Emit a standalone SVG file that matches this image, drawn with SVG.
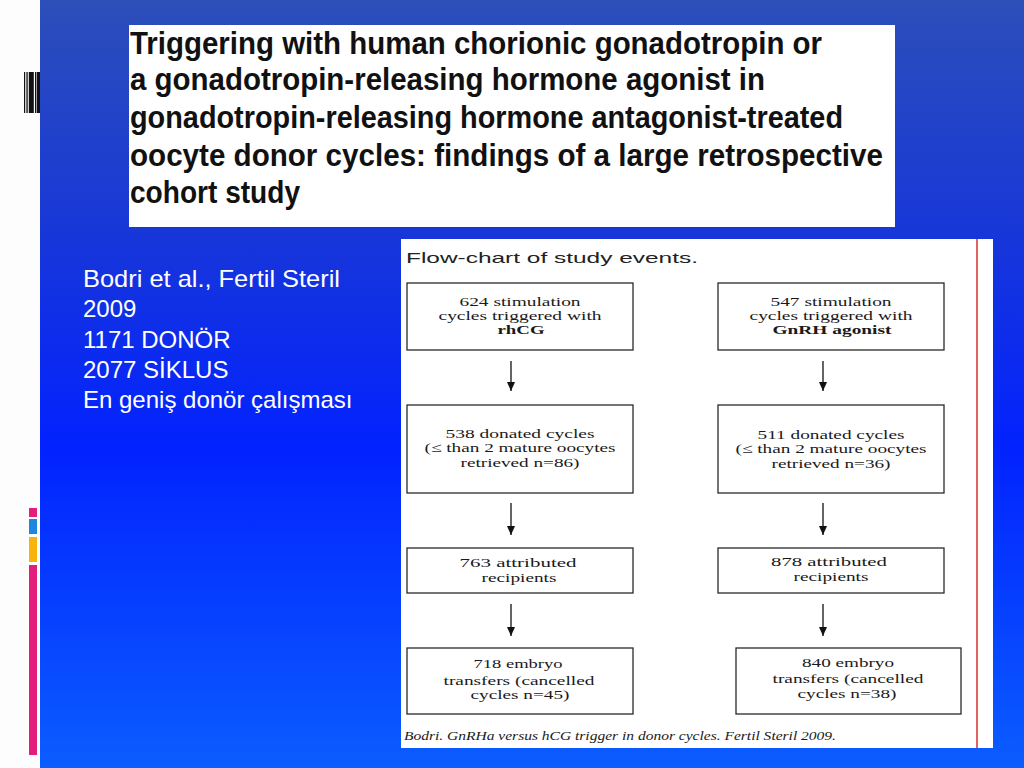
<svg xmlns="http://www.w3.org/2000/svg" width="1024" height="768" viewBox="0 0 1024 768">
  <defs>
    <linearGradient id="bg" x1="0" y1="0" x2="0" y2="1">
      <stop offset="0" stop-color="#2c4fb9"/>
      <stop offset="0.3" stop-color="#1837d8"/>
      <stop offset="0.58" stop-color="#0222ff"/>
      <stop offset="1" stop-color="#0b5dff"/>
    </linearGradient>
    <marker id="ah" viewBox="0 0 9 8" refX="9" refY="4" markerWidth="9" markerHeight="8" markerUnits="userSpaceOnUse" orient="auto">
      <path d="M0,0 L9,4 L0,8 z" fill="#111"/>
    </marker>
  </defs>
  <style>
    .title { font-family: "Liberation Sans", Arial, sans-serif; font-weight: bold; font-size: 32px; fill: #111; }
    .side { font-family: "Liberation Sans", Arial, sans-serif; font-size: 24px; fill: #ffffff; }
    .head { font-family: "Liberation Sans", Arial, sans-serif; font-size: 15px; fill: #222; }
    .box { fill: #ffffff; stroke: #2a2a2a; stroke-width: 1.3; }
    .bt { font-family: "Liberation Serif", "Times New Roman", serif; font-size: 13px; fill: #1a1a1a; text-anchor: middle; }
    .bb { font-weight: bold; }
    .cap { font-family: "Liberation Serif", "Times New Roman", serif; font-size: 12px; font-style: italic; fill: #1a1a1a; }
    .arr { stroke: #111; stroke-width: 1.3; fill: none; }
  </style>

  <!-- background -->
  <rect x="0" y="0" width="1024" height="768" fill="url(#bg)"/>
  <rect x="0" y="0" width="40" height="768" fill="#fdfdfd"/>

  <!-- barcode decoration -->
  <g id="barcode" fill="#111">
    <rect x="24" y="72" width="1.2" height="41"/>
    <rect x="26.4" y="72" width="1.3" height="41"/>
    <rect x="28.8" y="72" width="5" height="41"/>
    <rect x="35" y="72" width="1" height="41"/>
    <rect x="36.6" y="72" width="3.4" height="41"/>
  </g>

  <!-- colour bars -->
  <g id="colorbars">
    <rect x="29" y="508" width="8" height="9" fill="#e21d7c"/>
    <rect x="29" y="519" width="8" height="15" fill="#1f86e0"/>
    <rect x="29" y="537" width="8" height="25" fill="#f7b40c"/>
    <rect x="29" y="565" width="8" height="190" fill="#e21d7c"/>
  </g>

  <!-- title box -->
  <g id="title">
    <rect x="129" y="25" width="766" height="202" fill="#ffffff"/>
    <text class="title" x="130" y="54" textLength="692" lengthAdjust="spacingAndGlyphs">Triggering with human chorionic gonadotropin or</text>
    <text class="title" x="130" y="90" textLength="635" lengthAdjust="spacingAndGlyphs">a gonadotropin-releasing hormone agonist in</text>
    <text class="title" x="130" y="128" textLength="713" lengthAdjust="spacingAndGlyphs">gonadotropin-releasing hormone antagonist-treated</text>
    <text class="title" x="130" y="166" textLength="753" lengthAdjust="spacingAndGlyphs">oocyte donor cycles: findings of a large retrospective</text>
    <text class="title" x="130" y="203" textLength="170" lengthAdjust="spacingAndGlyphs">cohort study</text>
  </g>

  <!-- side text -->
  <g id="sidetext">
    <text class="side" x="83" y="287" textLength="257" lengthAdjust="spacingAndGlyphs">Bodri et al., Fertil Steril</text>
    <text class="side" x="83" y="317">2009</text>
    <text class="side" x="83" y="348">1171 DONÖR</text>
    <text class="side" x="83" y="378">2077 SİKLUS</text>
    <text class="side" x="83" y="408">En geniş donör çalışması</text>
  </g>

  <!-- flowchart panel -->
  <g id="panel">
    <rect x="401" y="239" width="592" height="509" fill="#ffffff"/>
    <line x1="977" y1="239" x2="977" y2="748" stroke="#e06262" stroke-width="2"/>
    <text class="head" x="406" y="263" textLength="292" lengthAdjust="spacingAndGlyphs">Flow-chart of study events.</text>
    <text class="cap" x="404" y="740" textLength="432" lengthAdjust="spacingAndGlyphs">Bodri. GnRHa versus hCG trigger in donor cycles. Fertil Steril 2009.</text>
  </g>

  <g id="n1">
    <rect class="box" x="407" y="283" width="226" height="67"/>
    <text class="bt" x="520" y="306" textLength="121" lengthAdjust="spacingAndGlyphs">624 stimulation</text>
    <text class="bt" x="520" y="320" textLength="163" lengthAdjust="spacingAndGlyphs">cycles triggered with</text>
    <text class="bt bb" x="521" y="334" textLength="47" lengthAdjust="spacingAndGlyphs">rhCG</text>
  </g>
  <g id="n2">
    <rect class="box" x="718" y="283" width="226" height="67"/>
    <text class="bt" x="831" y="306" textLength="121" lengthAdjust="spacingAndGlyphs">547 stimulation</text>
    <text class="bt" x="831" y="320" textLength="163" lengthAdjust="spacingAndGlyphs">cycles triggered with</text>
    <text class="bt bb" x="832" y="334" textLength="119" lengthAdjust="spacingAndGlyphs">GnRH agonist</text>
  </g>
  <g id="n3">
    <rect class="box" x="407" y="405" width="226" height="88"/>
    <text class="bt" x="520" y="438" textLength="149" lengthAdjust="spacingAndGlyphs">538 donated cycles</text>
    <text class="bt" x="520" y="452" textLength="191" lengthAdjust="spacingAndGlyphs">(≤ than 2 mature oocytes</text>
    <text class="bt" x="520" y="467" textLength="119" lengthAdjust="spacingAndGlyphs">retrieved n=86)</text>
  </g>
  <g id="n4">
    <rect class="box" x="718" y="405" width="226" height="88"/>
    <text class="bt" x="831" y="439" textLength="147" lengthAdjust="spacingAndGlyphs">511 donated cycles</text>
    <text class="bt" x="831" y="453" textLength="191" lengthAdjust="spacingAndGlyphs">(≤ than 2 mature oocytes</text>
    <text class="bt" x="831" y="468" textLength="119" lengthAdjust="spacingAndGlyphs">retrieved n=36)</text>
  </g>
  <g id="n5">
    <rect class="box" x="407" y="548" width="226" height="45"/>
    <text class="bt" x="518" y="567" textLength="117" lengthAdjust="spacingAndGlyphs">763 attributed</text>
    <text class="bt" x="519" y="582" textLength="75" lengthAdjust="spacingAndGlyphs">recipients</text>
  </g>
  <g id="n6">
    <rect class="box" x="718" y="548" width="226" height="45"/>
    <text class="bt" x="829" y="566" textLength="116" lengthAdjust="spacingAndGlyphs">878 attributed</text>
    <text class="bt" x="831" y="581" textLength="75" lengthAdjust="spacingAndGlyphs">recipients</text>
  </g>
  <g id="n7">
    <rect class="box" x="407" y="648" width="226" height="66"/>
    <text class="bt" x="518" y="668" textLength="89" lengthAdjust="spacingAndGlyphs">718 embryo</text>
    <text class="bt" x="519" y="685" textLength="151" lengthAdjust="spacingAndGlyphs">transfers (cancelled</text>
    <text class="bt" x="520" y="699" textLength="99" lengthAdjust="spacingAndGlyphs">cycles n=45)</text>
  </g>
  <g id="n8">
    <rect class="box" x="736" y="648" width="225" height="66"/>
    <text class="bt" x="848" y="667" textLength="92" lengthAdjust="spacingAndGlyphs">840 embryo</text>
    <text class="bt" x="848" y="683" textLength="151" lengthAdjust="spacingAndGlyphs">transfers (cancelled</text>
    <text class="bt" x="847" y="698" textLength="99" lengthAdjust="spacingAndGlyphs">cycles n=38)</text>
  </g>

  <!-- connectors -->
  <g id="connectors">
    <line class="arr" x1="511" y1="361" x2="511" y2="391" marker-end="url(#ah)"/>
    <line class="arr" x1="511" y1="503" x2="511" y2="535" marker-end="url(#ah)"/>
    <line class="arr" x1="511" y1="604" x2="511" y2="636" marker-end="url(#ah)"/>
    <line class="arr" x1="823" y1="361" x2="823" y2="391" marker-end="url(#ah)"/>
    <line class="arr" x1="823" y1="503" x2="823" y2="535" marker-end="url(#ah)"/>
    <line class="arr" x1="823" y1="604" x2="823" y2="636" marker-end="url(#ah)"/>
  </g>
</svg>
